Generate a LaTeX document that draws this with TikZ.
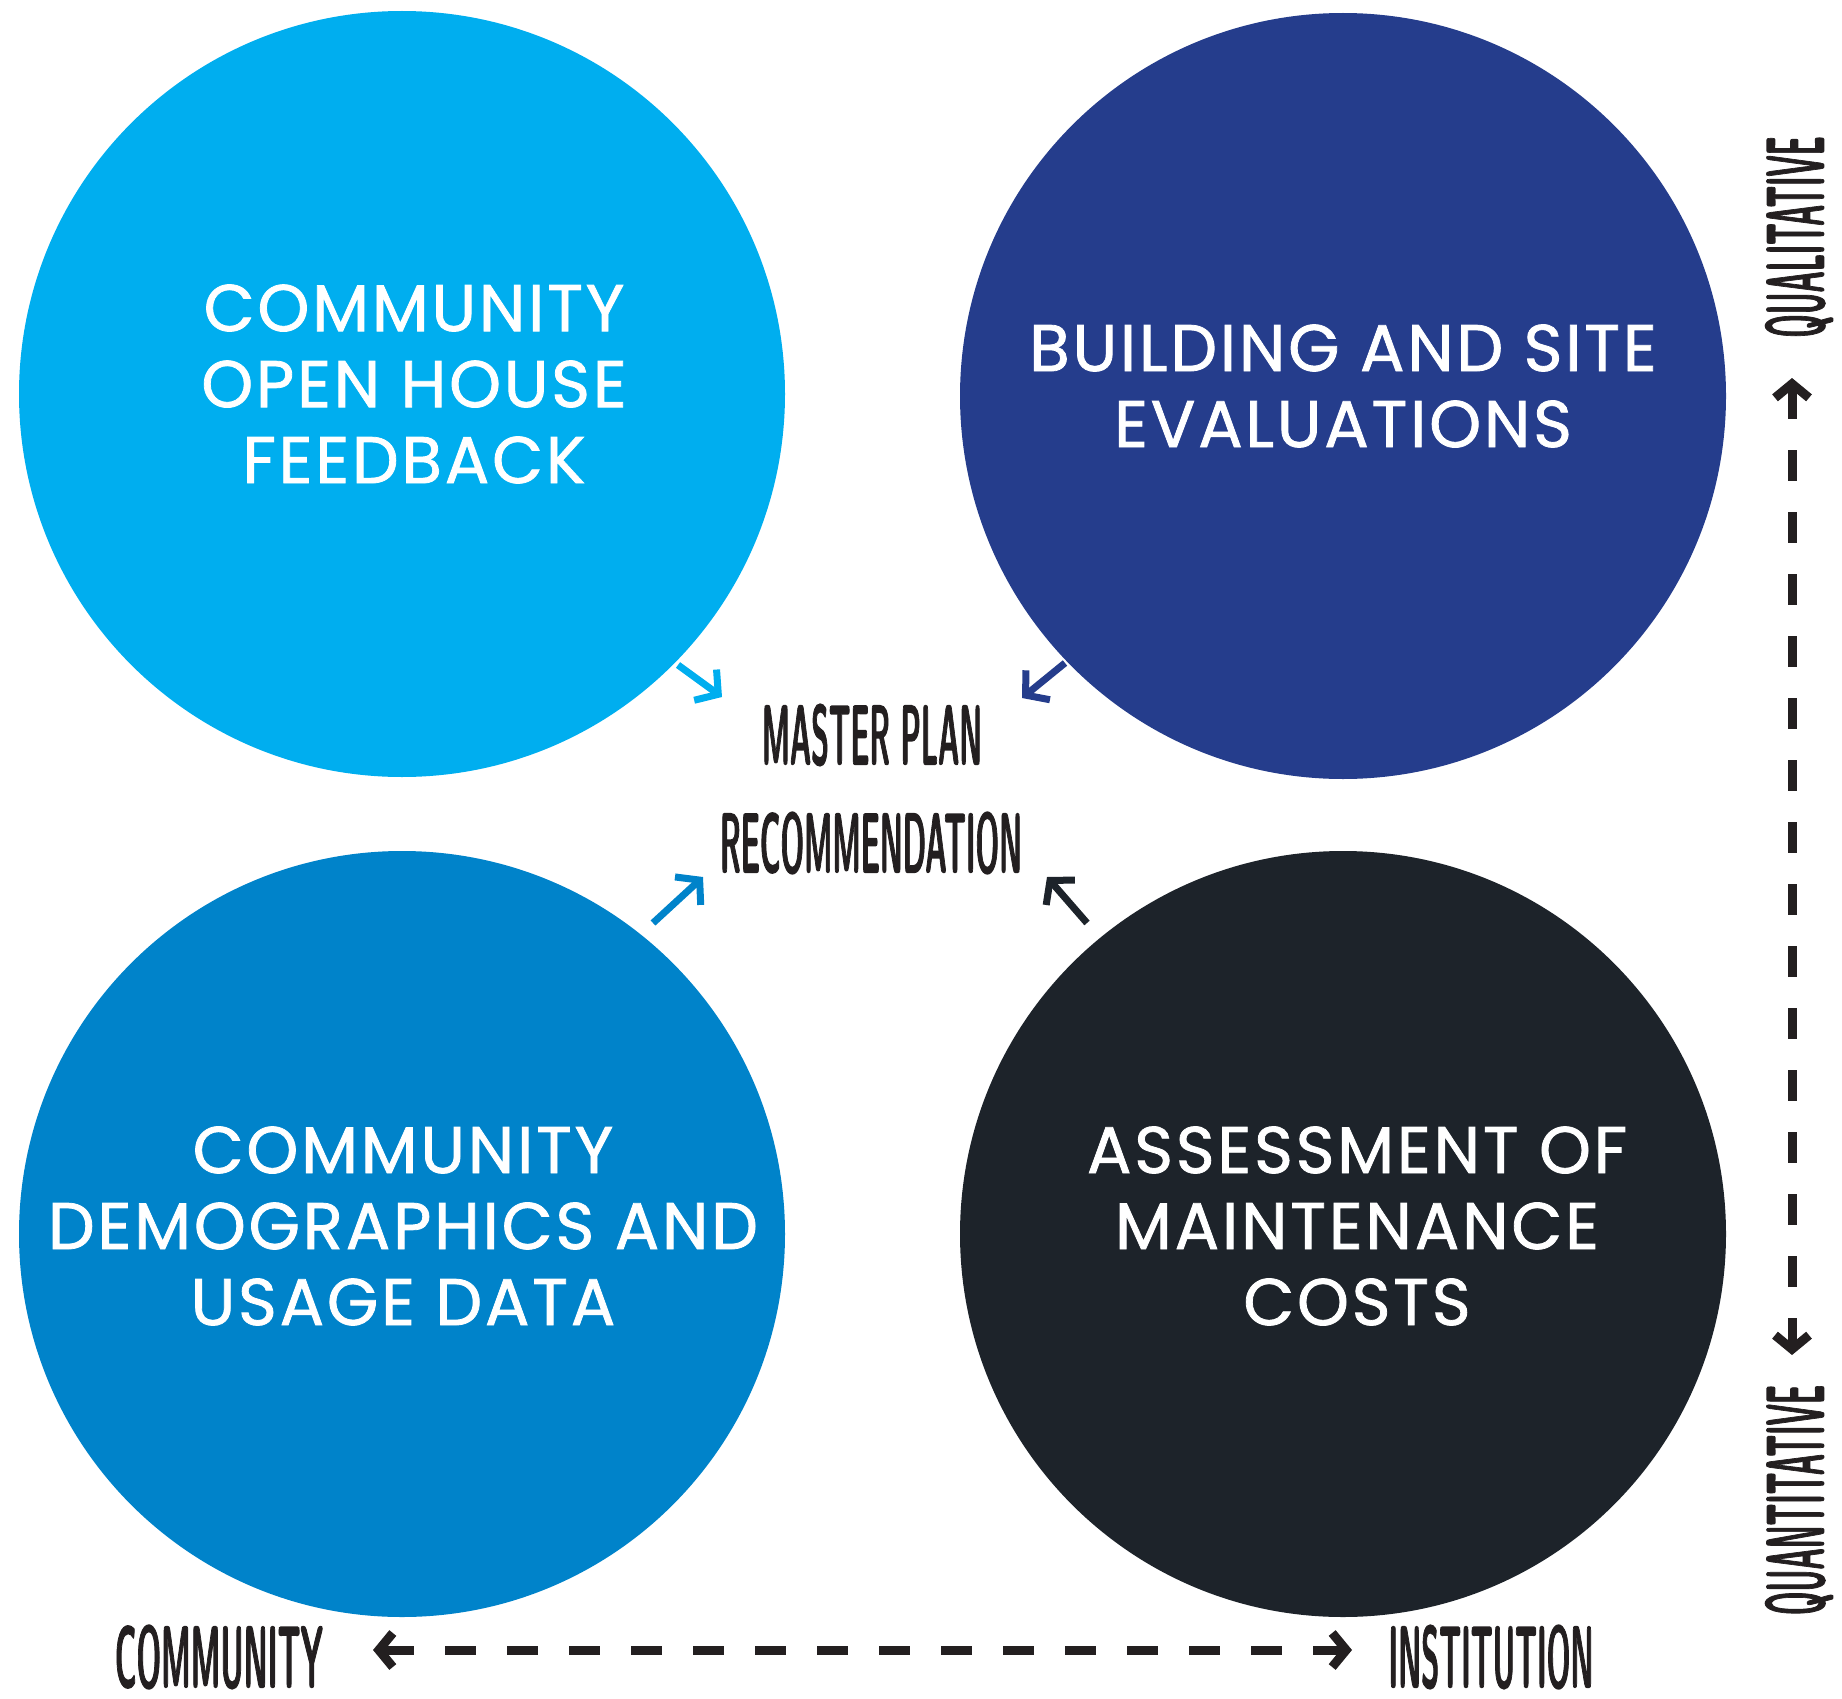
\documentclass[tikz,border=0pt]{standalone}
\usepackage{fontspec}
\usepackage{graphicx}
\setmainfont{Poppins}[FakeBold=1.2, LetterSpace=4.3]
\newfontfamily\condfont{lmsansdemicond10-regular.otf}[FakeBold=2]
\usetikzlibrary{arrows.meta}
\definecolor{cyanA}{HTML}{00AEEF}
\definecolor{navyB}{HTML}{253D8C}
\definecolor{blueC}{HTML}{0083CA}
\definecolor{darkD}{HTML}{1D232A}
\definecolor{ink}{HTML}{231F20}
\begin{document}
\begin{tikzpicture}[x=1pt,y=-1pt,
  blob/.style={circle, minimum size=766pt, inner sep=0pt},
  circtext/.style={text=white, align=center, inner sep=0pt, font=\fontsize{66}{76}\selectfont},
  lab/.style={inner sep=0pt, text=ink},
  pointer/.style={line width=7pt, -{Straight Barb[length=16pt,width=38pt]}},
  axis/.style={line width=9pt, draw=ink, dash pattern=on 31pt off 31pt,
    {Straight Barb[length=14pt,width=34pt]}-{Straight Barb[length=14pt,width=34pt]}}
]
\useasboundingbox (0,0) rectangle (1842,1699);

\node[blob, fill=cyanA] (c1) at (402,394) {};
\node[blob, fill=navyB] (c2) at (1343,396) {};
\node[blob, fill=blueC] (c3) at (402,1234) {};
\node[blob, fill=darkD] (c4) at (1343,1234) {};

\node[circtext] (t1) at (414,384) {COMMUNITY\\OPEN HOUSE\\FEEDBACK};
\node[circtext] (t2) at (1343,386) {BUILDING AND SITE\\EVALUATIONS};
\node[circtext] (t3) at (403,1226) {COMMUNITY\\DEMOGRAPHICS AND\\USAGE DATA};
\node[circtext] (t4) at (1357,1226) {ASSESSMENT OF\\MAINTENANCE\\COSTS};

\node[lab] (mp) at (872,735) {\resizebox{220pt}{60pt}{\condfont MASTER PLAN}};
\node[lab] (rec) at (871,843) {\resizebox{302pt}{60pt}{\condfont RECOMMENDATION}};

\node[lab] (com) at (219,1657) {\resizebox{208pt}{62pt}{\condfont COMMUNITY}};
\node[lab] (ins) at (1491,1657) {\resizebox{205pt}{62pt}{\condfont INSTITUTION}};
\node[lab, rotate=90] (qual) at (1799,237) {\resizebox{201pt}{58pt}{\condfont QUALITATIVE}};
\node[lab, rotate=90] (quan) at (1799,1500) {\resizebox{230pt}{58pt}{\condfont QUANTITATIVE}};

\coordinate (p1s) at (678,665);  \coordinate (p1e) at (722,697);
\coordinate (p2s) at (1065,663); \coordinate (p2e) at (1022,698);
\coordinate (p3s) at (653,923);  \coordinate (p3e) at (703,877);
\coordinate (p4s) at (1087,923); \coordinate (p4e) at (1047,877);
\draw[pointer, cyanA] (p1s) -- (p1e);
\draw[pointer, navyB] (p2s) -- (p2e);
\draw[pointer, blueC] (p3s) -- (p3e);
\draw[pointer, darkD] (p4s) -- (p4e);

\coordinate (hl) at (373,1650); \coordinate (hr) at (1352,1650);
\coordinate (vt) at (1792,378); \coordinate (vb) at (1792,1355);
\draw[axis] (hl) -- (hr);
\draw[axis] (vt) -- (vb);
\end{tikzpicture}
\end{document}
